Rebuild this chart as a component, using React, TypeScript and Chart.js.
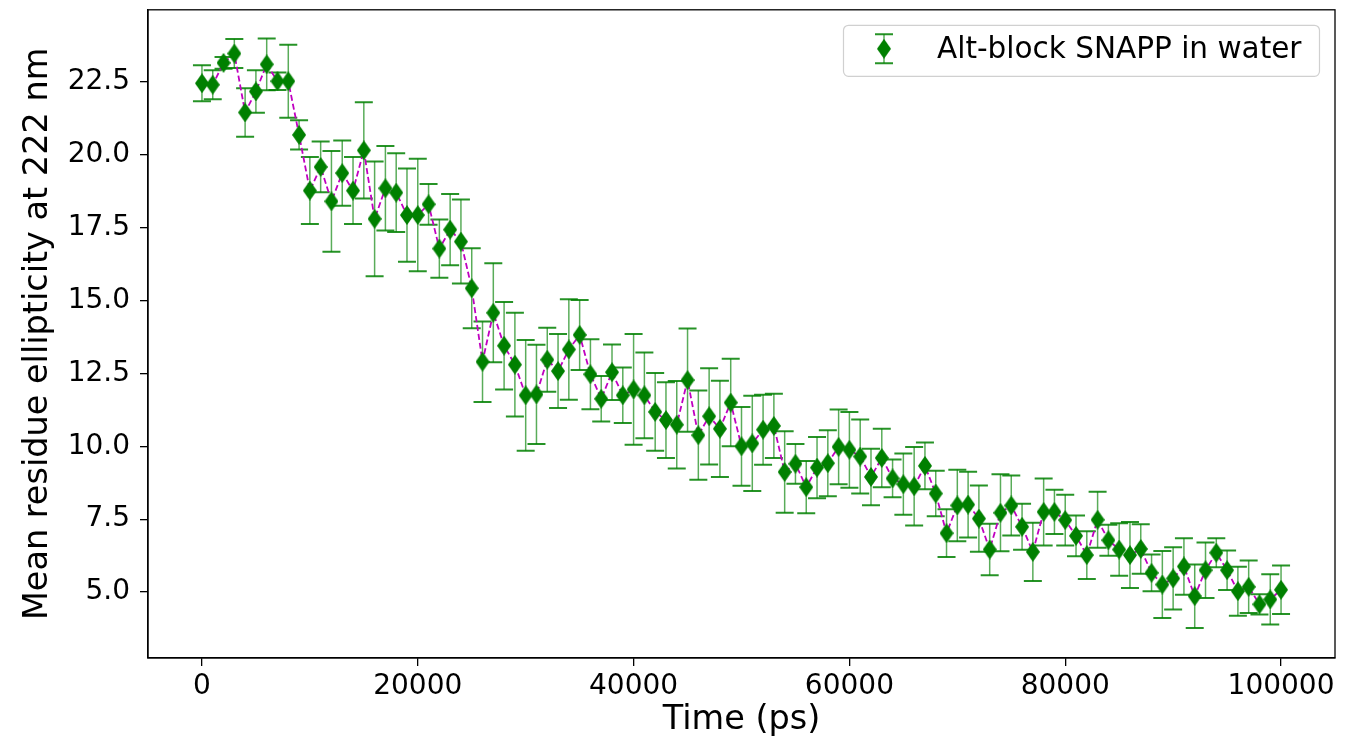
import React, { useEffect, useRef } from "react";
import { Chart, registerables } from "chart.js";

Chart.register(...registerables);

const times = [
  0, 1000, 2000, 3000, 4000, 5000, 6000, 7000, 8000, 9000,
  10000, 11000, 12000, 13000, 14000, 15000, 16000, 17000, 18000, 19000,
  20000, 21000, 22000, 23000, 24000, 25000, 26000, 27000, 28000, 29000,
  30000, 31000, 32000, 33000, 34000, 35000, 36000, 37000, 38000, 39000,
  40000, 41000, 42000, 43000, 44000, 45000, 46000, 47000, 48000, 49000,
  50000, 51000, 52000, 53000, 54000, 55000, 56000, 57000, 58000, 59000,
  60000, 61000, 62000, 63000, 64000, 65000, 66000, 67000, 68000, 69000,
  70000, 71000, 72000, 73000, 74000, 75000, 76000, 77000, 78000, 79000,
  80000, 81000, 82000, 83000, 84000, 85000, 86000, 87000, 88000, 89000,
  90000, 91000, 92000, 93000, 94000, 95000, 96000, 97000, 98000, 99000,
  100000,
];

const values = [
  22.45, 22.4, 23.15, 23.47, 21.45, 22.17, 23.1, 22.52, 22.52, 20.68,
  18.77, 19.58, 18.4, 19.37, 18.77, 20.15, 17.8, 18.85, 18.7, 17.93,
  17.93, 18.3, 16.78, 17.43, 17.02, 15.42, 12.9, 14.58, 13.45, 12.8,
  11.75, 11.78, 12.97, 12.58, 13.32, 13.82, 12.47, 11.63, 12.54, 11.75,
  11.95, 11.75, 11.18, 10.9, 10.74, 12.27, 10.38, 11.03, 10.6, 11.5,
  10.0, 10.1, 10.57, 10.7, 9.12, 9.4, 8.6, 9.27, 9.42, 9.98,
  9.88, 9.65, 8.95, 9.6, 8.9, 8.7, 8.63, 9.33, 8.38, 7.02,
  7.97, 8.0, 7.52, 6.46, 7.72, 7.97, 7.24, 6.38, 7.75, 7.75,
  7.47, 6.93, 6.27, 7.48, 6.78, 6.46, 6.27, 6.48, 5.66, 5.26,
  5.47, 5.88, 4.86, 5.75, 6.35, 5.75, 5.03, 5.18, 4.58, 4.75,
  5.08,
];

const errors = [
  0.62, 0.5, 0.2, 0.5, 0.83, 0.73, 0.89, 0.3, 1.25, 0.5,
  1.15, 0.87, 1.73, 1.12, 1.15, 1.65, 1.97, 1.45, 1.35, 1.6,
  1.93, 0.7, 1.0, 1.22, 1.44, 1.37, 1.38, 1.7, 1.5, 1.78,
  1.9, 1.7, 1.1, 1.27, 1.72, 1.2, 1.2, 0.78, 0.95, 0.95,
  1.9, 1.47, 1.33, 1.3, 1.5, 1.77, 1.53, 1.65, 1.65, 1.5,
  1.35, 1.63, 1.2, 1.1, 1.4, 0.68, 0.9, 1.05, 1.13, 1.28,
  1.3, 1.27, 0.97, 1.0, 0.65, 1.05, 1.35, 0.8, 0.78, 0.82,
  1.23, 1.13, 1.14, 0.88, 1.32, 1.03, 0.79, 1.0, 1.15, 0.76,
  0.87, 0.7, 0.82, 0.96, 0.53, 0.9, 1.13, 0.85, 0.63, 1.15,
  1.07, 0.97, 1.09, 0.95, 0.5, 0.68, 0.84, 0.9, 0.35, 0.86,
  0.83,
];

const xTicks = [0, 20000, 40000, 60000, 80000, 100000];
const yTicks = [5.0, 7.5, 10.0, 12.5, 15.0, 17.5, 20.0, 22.5];
const seriesLabel = "Alt-block SNAPP in water";
const xTitle = "Time (ps)";
const yTitle = "Mean residue ellipticity at 222 nm";

const FONT = "'DejaVu Sans', sans-serif";
const GREEN = "#008000";
const BAR = "rgba(0,128,0,0.65)";
const CAP = "rgba(0,128,0,0.85)";
const MAGENTA = "#c000c0";

function makeDiamond(w: number, h: number, color: string) {
  const c = document.createElement("canvas");
  c.width = w;
  c.height = h;
  const ctx = c.getContext("2d")!;
  ctx.fillStyle = color;
  ctx.beginPath();
  ctx.moveTo(w / 2, 0);
  ctx.lineTo(w, h / 2);
  ctx.lineTo(w / 2, h);
  ctx.lineTo(0, h / 2);
  ctx.closePath();
  ctx.fill();
  return c;
}

function drawErrorBar(ctx: CanvasRenderingContext2D, px: number, top: number, bot: number) {
  ctx.strokeStyle = BAR;
  ctx.lineWidth = 1.5;
  ctx.beginPath();
  ctx.moveTo(px, top);
  ctx.lineTo(px, bot);
  ctx.stroke();
  ctx.strokeStyle = CAP;
  ctx.lineWidth = 2;
  ctx.beginPath();
  ctx.moveTo(px - 9, top);
  ctx.lineTo(px + 9, top);
  ctx.moveTo(px - 9, bot);
  ctx.lineTo(px + 9, bot);
  ctx.stroke();
}

export default function App() {
  const ref = useRef<HTMLCanvasElement | null>(null);

  useEffect(() => {
    if (!ref.current) return;
    const diamond = makeDiamond(14, 20, GREEN);

    const errorBarPlugin = {
      id: "errorBars",
      beforeDatasetsDraw(chart: any) {
        const { ctx, scales } = chart;
        const x = scales.x;
        const y = scales.y;
        ctx.save();
        times.forEach((t, i) => {
          const px = x.getPixelForValue(t);
          const top = y.getPixelForValue(values[i] + errors[i]);
          const bot = y.getPixelForValue(values[i] - errors[i]);
          drawErrorBar(ctx, px, top, bot);
        });
        ctx.restore();
      },
    };

    const framePlugin = {
      id: "frame",
      afterDraw(chart: any) {
        const { ctx, chartArea: a } = chart;
        ctx.save();
        ctx.strokeStyle = "#000";
        ctx.lineWidth = 1.3;
        ctx.strokeRect(a.left, a.top, a.right - a.left, a.bottom - a.top);

        // legend
        const bw = 476;
        const bh = 51;
        const bx = a.right - 16 - bw;
        const by = a.top + 15;
        ctx.beginPath();
        ctx.roundRect(bx + 0.5, by + 0.5, bw, bh, 5);
        ctx.fillStyle = "rgba(255,255,255,0.8)";
        ctx.fill();
        ctx.strokeStyle = "#d0d0d0";
        ctx.lineWidth = 1.2;
        ctx.stroke();
        const mx = bx + 41;
        const my = by + 24;
        drawErrorBar(ctx, mx, my - 14.5, my + 14.5);
        ctx.drawImage(diamond, mx - 7, my - 10);
        ctx.fillStyle = "#000";
        ctx.font = `29.5px ${FONT}`;
        ctx.textBaseline = "alphabetic";
        ctx.textAlign = "left";
        ctx.fillText(seriesLabel, bx + 94, by + 33);
        ctx.restore();
      },
    };

    const chart = new Chart(ref.current, {
      type: "line",
      data: {
        datasets: [
          {
            label: seriesLabel,
            data: times.map((t, i) => ({ x: t, y: values[i] })),
            borderColor: MAGENTA,
            borderWidth: 1.8,
            borderDash: [6, 3],
            pointStyle: diamond as any,
            pointRadius: 8,
            pointHoverRadius: 8,
            backgroundColor: GREEN,
            tension: 0,
          },
        ],
      },
      options: {
        animation: false,
        responsive: true,
        maintainAspectRatio: false,
        events: [],
        layout: { padding: { top: 9, right: 26, left: 0, bottom: 0 } },
        plugins: {
          legend: { display: false },
          tooltip: { enabled: false },
        },
        scales: {
          x: {
            type: "linear",
            min: -5000,
            max: 105000,
            afterBuildTicks: (s: any) => {
              s.ticks = xTicks.map((v) => ({ value: v }));
            },
            afterFit: (s: any) => {
              s.height = 84;
              s.paddingLeft = 0;
              s.paddingRight = 0;
            },
            ticks: {
              color: "#000",
              font: { family: FONT, size: 28 },
              padding: 4,
              maxRotation: 0,
              autoSkip: false,
              callback: (v: any) => String(v),
            },
            grid: {
              display: true,
              drawOnChartArea: false,
              drawTicks: true,
              tickLength: 8,
              color: "#000",
              lineWidth: 1.3,
            },
            border: { display: true, color: "#000", width: 1.3 },
            title: {
              display: true,
              text: xTitle,
              color: "#000",
              font: { family: FONT, size: 33.5 },
              padding: { top: 0, bottom: 2 },
            },
          },
          y: {
            type: "linear",
            min: 2.74,
            max: 24.97,
            afterBuildTicks: (s: any) => {
              s.ticks = yTicks.map((v) => ({ value: v }));
            },
            afterFit: (s: any) => {
              s.width = 148;
              s.paddingTop = 0;
              s.paddingBottom = 0;
            },
            ticks: {
              color: "#000",
              font: { family: FONT, size: 28 },
              padding: 10,
              autoSkip: false,
              callback: (v: any) => Number(v).toFixed(1),
            },
            grid: {
              display: true,
              drawOnChartArea: false,
              drawTicks: true,
              tickLength: 8,
              color: "#000",
              lineWidth: 1.3,
            },
            border: { display: true, color: "#000", width: 1.3 },
            title: {
              display: true,
              text: yTitle,
              color: "#000",
              font: { family: FONT, size: 33.5 },
              padding: { top: 18, bottom: 0 },
            },
          },
        },
      },
      plugins: [errorBarPlugin, framePlugin],
    } as any);

    return () => chart.destroy();
  }, []);

  return (
    <div style={{ position: "fixed", left: 0, top: 0, width: 1361, height: 742, background: "#fff" }}>
      <canvas ref={ref} />
    </div>
  );
}
